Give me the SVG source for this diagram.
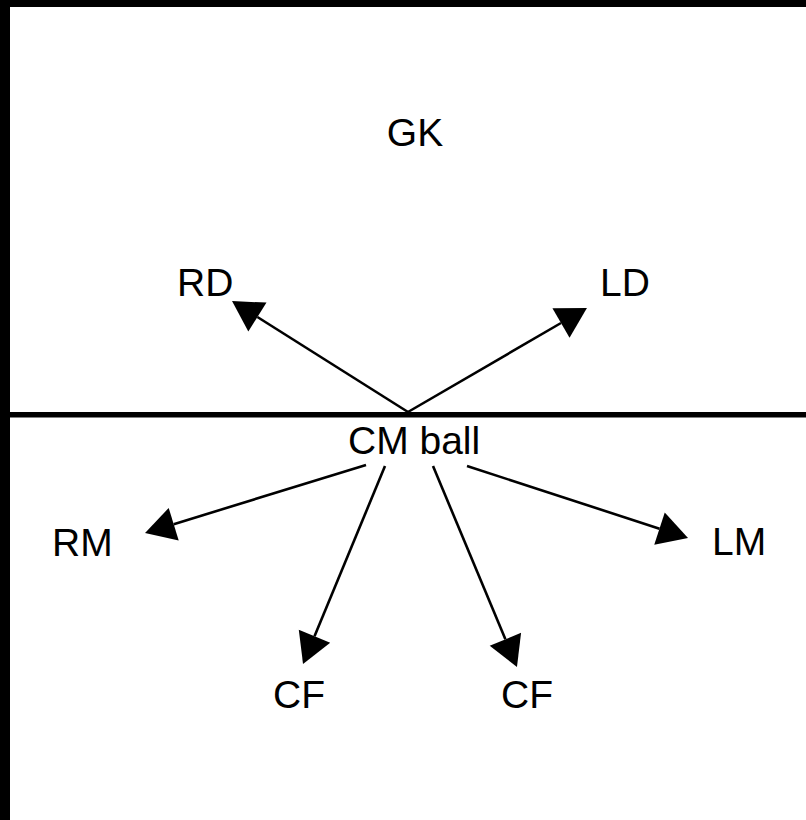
<svg xmlns="http://www.w3.org/2000/svg" width="806" height="820" viewBox="0 0 806 820">
<style>
.lbl{font-family:"Liberation Sans",Arial,sans-serif;font-size:39px;fill:#000}
.arr{stroke:#000;stroke-width:2.6;fill:none;marker-end:url(#ah)}
</style>
<defs>
<marker id="ah" markerUnits="userSpaceOnUse" markerWidth="31" markerHeight="35" refX="0" refY="17" orient="auto" overflow="visible">
<path d="M0,0 L30,17 L0,34 z" fill="#000"/>
</marker>
</defs>
<rect x="0" y="0" width="806" height="820" fill="#fff"/>
<g id="frame">
<rect x="0" y="0" width="10" height="820" fill="#000"/>
<rect x="0" y="0" width="806" height="7" fill="#000"/>
<rect x="10" y="412" width="796" height="5.5" fill="#000"/>
</g>
<g id="connectors">
<line class="arr" x1="408" y1="412" x2="257.4" y2="317"/>
<line class="arr" x1="408" y1="412" x2="561" y2="323"/>
<line class="arr" x1="366" y1="465" x2="173.7" y2="524.2"/>
<line class="arr" x1="467" y1="466" x2="659.5" y2="528.7"/>
<line class="arr" x1="385" y1="466" x2="314.5" y2="636.3"/>
<line class="arr" x1="433" y1="466" x2="505.4" y2="639.3"/>
</g>
<g id="GK"><text class="lbl" x="415" y="146" text-anchor="middle">GK</text></g>
<g id="RD"><text class="lbl" x="177" y="296">RD</text></g>
<g id="LD"><text class="lbl" x="600" y="296">LD</text></g>
<g id="CM"><text class="lbl" x="348" y="454">CM ball</text></g>
<g id="RM"><text class="lbl" x="52" y="556">RM</text></g>
<g id="LM"><text class="lbl" x="712" y="555">LM</text></g>
<g id="CF1"><text class="lbl" x="273" y="708">CF</text></g>
<g id="CF2"><text class="lbl" x="501" y="708">CF</text></g>
</svg>
